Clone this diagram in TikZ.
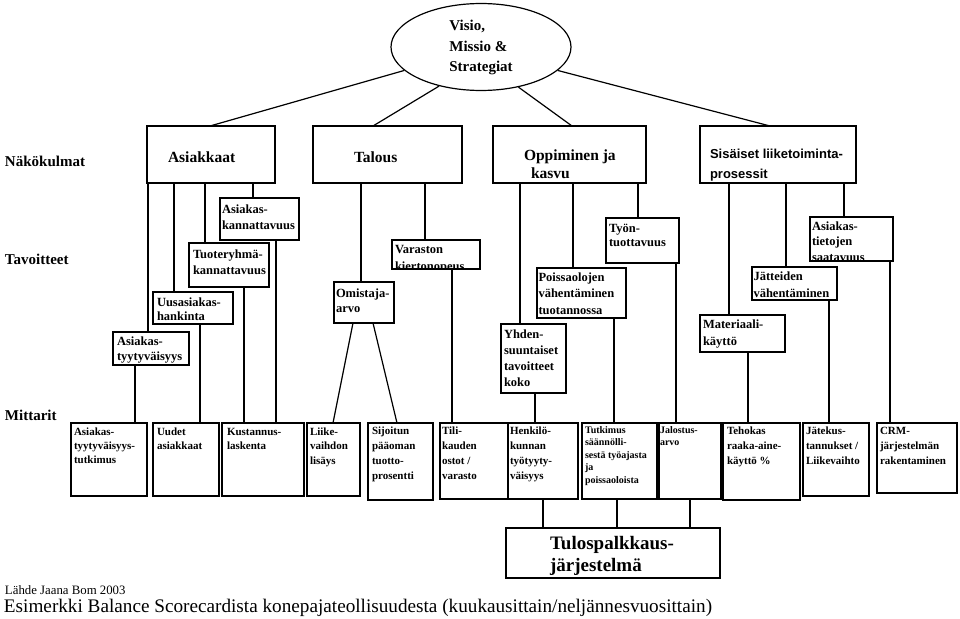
\documentclass[tikz,border=0pt]{standalone}
\usepackage{fontspec}
\setmainfont{Liberation Serif}
\newfontfamily\arialfont{Liberation Sans}
\usetikzlibrary{shapes.geometric}
\tikzset{
  box/.style={draw, line width=1.2pt, inner sep=0pt, outer sep=0pt, anchor=north west},
  txt/.style={inner sep=0pt, outer sep=0pt, anchor=base west},
  ln/.style={line width=1.2pt},
  lbl/.style={inner sep=0pt, outer sep=0pt, anchor=base west, font=\fontsize{15}{18}\selectfont\bfseries}
}
% name, x, y, w, h, dx, dy, font, text
\newcommand\bx[9]{%
  \node[box, minimum width=#4pt, minimum height=#5pt] (#1) at (#2,#3) {};
  \begin{scope}
    \clip (#1.south west) rectangle (#1.north east);
    \node[txt] at ([shift={(#6,#7)}]#1.north west) {#8\begin{tabular}[t]{@{}l@{}}#9\end{tabular}};
  \end{scope}}
\newcommand\hdf{\fontsize{15.5}{18}\selectfont\bfseries}
\newcommand\tvf[1]{\fontsize{12.5}{#1}\selectfont\bfseries}
\newcommand\mtf[1]{\fontsize{11}{#1}\selectfont\bfseries}
\begin{document}
\begin{tikzpicture}[x=1pt,y=-1pt]
\useasboundingbox (0,0) rectangle (960,618);

% vision ellipse
\node[ellipse, draw, line width=1.2pt, minimum width=180pt, minimum height=86pt, inner sep=0pt] (visio) at (481,47)
  {\fontsize{15}{20.5}\selectfont\bfseries\begin{tabular}{@{}l@{}}Visio,\\Missio \&\\Strategiat\end{tabular}};

% row labels
\node[lbl] (nakokulmat) at (5,166) {Näkökulmat};
\node[lbl] (tavoitteet) at (5,264) {Tavoitteet};
\node[lbl] (mittarit) at (5,420) {Mittarit};

% perspectives
\bx{asiakkaat}{147}{126}{128}{57}{21}{36}{\hdf}{Asiakkaat}
\bx{talous}{313}{126}{149}{57}{41}{36}{\hdf}{Talous}
\bx{oppiminen}{493}{126}{153}{57}{31}{34}{\hdf}{Oppiminen ja\\\hspace{7pt}kasvu}
\bx{sisaiset}{700}{126}{156}{57}{10}{32}{\arialfont\fontsize{13}{20}\selectfont\bfseries}{Sisäiset liiketoiminta-\\prosessit}

\draw[ln] (visio.197) -- (asiakkaat.north -| 210,0);
\draw[ln] (visio.223) -- (talous.north -| 373,0);
\draw[ln] (visio.313) -- (oppiminen.north -| 572,0);
\draw[ln] (visio.343) -- (sisaiset.north -| 770,0);

% objectives
\bx{t1}{220}{198}{79}{42}{2}{15}{\tvf{16}}{Asiakas-\\kannattavuus}
\bx{t2}{189}{243}{80}{44}{4}{15}{\tvf{16}}{Tuoteryhmä-\\kannattavuus}
\bx{t3}{153}{292}{80}{32}{4}{14}{\tvf{14.5}}{Uusasiakas-\\hankinta}
\bx{t4}{113}{332}{76}{33}{4}{13}{\tvf{15}}{Asiakas-\\tyytyväisyys}
\bx{omistaja}{334}{282}{60}{41}{2}{15}{\tvf{15}}{Omistaja-\\arvo}
\bx{varaston}{392}{240}{88}{29}{3}{13}{\tvf{17}}{Varaston\\kiertonopeus}
\bx{yhden}{501}{324}{65}{69}{3}{14}{\tvf{16.3}}{Yhden-\\suuntaiset\\tavoitteet\\koko}
\bx{poiss}{537}{268}{89}{50}{1.5}{13}{\tvf{16.5}}{Poissaolojen\\vähentäminen\\tuotannossa}
\bx{tyon}{606}{218}{73}{45}{3}{14}{\tvf{14.5}}{Työn-\\tuottavuus}
\bx{materiaali}{700}{315}{85}{37}{3}{13}{\tvf{17}}{Materiaali-\\käyttö}
\bx{jatteiden}{752}{267}{85}{33}{1.5}{13}{\tvf{17}}{Jätteiden\\vähentäminen}
\bx{asiakastiet}{810}{217}{83}{44}{2}{13}{\tvf{15.5}}{Asiakas-\\tietojen\\saatavuus}

% measures
\bx{m1}{71}{423}{76}{73}{3}{12}{\mtf{14}}{Asiakas-\\tyytyväisyys-\\tutkimus}
\bx{m2}{153}{423}{66}{73}{4}{12}{\mtf{14}}{Uudet\\asiakkaat}
\bx{m3}{222}{423}{82}{73}{5}{12}{\mtf{14}}{Kustannus-\\laskenta}
\bx{m4}{307}{423}{53}{73}{3}{12}{\mtf{14.5}}{Liike-\\vaihdon\\lisäys}
\bx{m5}{368}{423}{65}{77}{4}{11}{\mtf{15}}{Sijoitun\\pääoman\\tuotto-\\prosentti}
\bx{m6}{440}{423}{68}{76}{2}{11}{\mtf{15}}{Tili-\\kauden\\ostot /\\varasto}
\bx{m7}{508}{423}{70}{76}{2}{11}{\mtf{15}}{Henkilö-\\kunnan\\työtyyty-\\väisyys}
\bx{m8}{582}{423}{75}{76}{3}{10}{\fontsize{10}{12.5}\selectfont\bfseries}{Tutkimus\\säännölli-\\sestä työajasta\\ja\\poissaoloista}
\bx{m9}{659}{423}{62}{76}{1}{10}{\fontsize{10}{12}\selectfont\bfseries}{Jalostus-\\arvo}
\bx{m10}{723}{423}{77}{77}{4}{11}{\mtf{15}}{Tehokas\\raaka-aine-\\käyttö \%}
\bx{m11}{803}{423}{66}{73}{3}{11}{\mtf{15}}{Jätekus-\\tannukset /\\Liikevaihto}
\bx{m12}{877}{423}{80}{70}{3}{11}{\mtf{15}}{CRM-\\järjestelmän\\rakentaminen}

% result box
\bx{tulos}{506}{528}{214}{50}{44}{21}{\fontsize{19}{22}\selectfont\bfseries}{Tulospalkkaus-\\järjestelmä}

% connectors: Asiakkaat
\draw[ln] (asiakkaat.south -| 148,0) -- (t4.north -| 148,0);
\draw[ln] (asiakkaat.south -| 174,0) -- (t3.north -| 174,0);
\draw[ln] (asiakkaat.south -| 205,0) -- (t2.north -| 205,0);
\draw[ln] (asiakkaat.south -| 253,0) -- (t1.north -| 253,0);
\draw[ln] (t4.south -| 135,0) -- (m1.north -| 135,0);
\draw[ln] (t3.south -| 200,0) -- (m2.north -| 200,0);
\draw[ln] (t2.south -| 244,0) -- (m3.north -| 244,0);
\draw[ln] (t1.south -| 276,0) -- (m3.north -| 276,0);
% Talous
\draw[ln] (talous.south -| 361,0) -- (omistaja.north -| 361,0);
\draw[ln] (talous.south -| 425,0) -- (varaston.north -| 425,0);
\draw[ln] (omistaja.south -| 353,0) -- (m4.north -| 333,0);
\draw[ln] (omistaja.south -| 373,0) -- (m5.north -| 397,0);
\draw[ln] (varaston.south -| 452,0) -- (m6.north -| 452,0);
% Oppiminen
\draw[ln] (oppiminen.south -| 520,0) -- (yhden.north -| 520,0);
\draw[ln] (oppiminen.south -| 573,0) -- (poiss.north -| 573,0);
\draw[ln] (oppiminen.south -| 638,0) -- (tyon.north -| 638,0);
\draw[ln] (yhden.south -| 535,0) -- (m7.north -| 535,0);
\draw[ln] (poiss.south -| 614,0) -- (m8.north -| 614,0);
\draw[ln] (tyon.south -| 676,0) -- (m9.north -| 676,0);
% Sisaiset
\draw[ln] (sisaiset.south -| 729,0) -- (materiaali.north -| 729,0);
\draw[ln] (sisaiset.south -| 786,0) -- (jatteiden.north -| 786,0);
\draw[ln] (sisaiset.south -| 844,0) -- (asiakastiet.north -| 844,0);
\draw[ln] (materiaali.south -| 748,0) -- (m10.north -| 748,0);
\draw[ln] (jatteiden.south -| 829,0) -- (m11.north -| 829,0);
\draw[ln] (asiakastiet.south -| 890,0) -- (m12.north -| 890,0);
% to result
\draw[ln] (m7.south -| 543,0) -- (tulos.north -| 543,0);
\draw[ln] (m8.south -| 617,0) -- (tulos.north -| 617,0);
\draw[ln] (m9.south -| 690,0) -- (tulos.north -| 690,0);

% footer
\node[txt, font=\fontsize{12.8}{14}\selectfont] (lahde) at (5,594) {Lähde Jaana Bom 2003};
\node[txt, font=\fontsize{19.2}{21}\selectfont] (esim) at (4,612) {Esimerkki Balance Scorecardista konepajateollisuudesta (kuukausittain/neljännesvuosittain)};
\end{tikzpicture}
\end{document}
